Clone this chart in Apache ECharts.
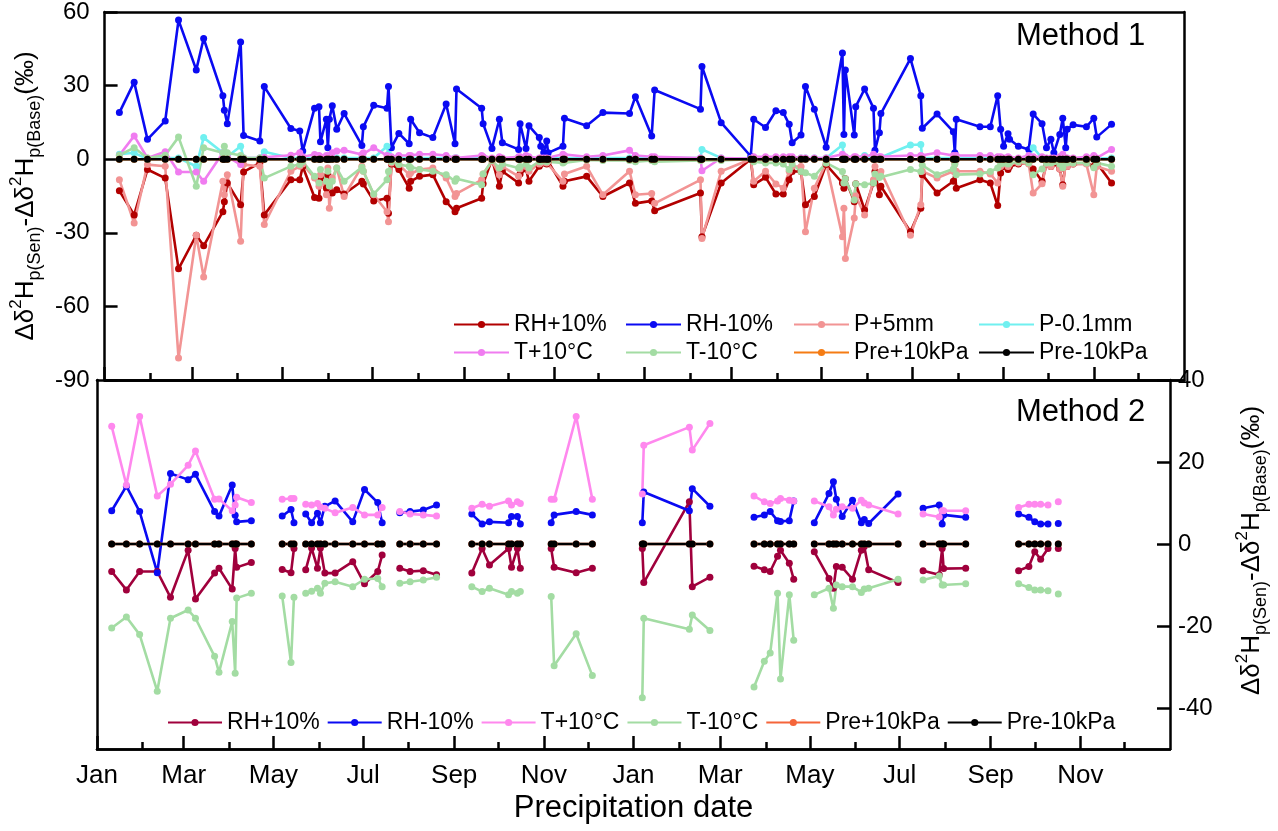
<!DOCTYPE html>
<html>
<head>
<meta charset="utf-8">
<script src="https://cdn.jsdelivr.net/npm/echarts@6/dist/echarts.min.js"></script>
<style>
  html, body { margin: 0; padding: 0; background: #fff; }
  #main { width: 1278px; height: 831px; }
</style>
</head>
<body>
<div id="main"></div>
<script>
// x axis: days since 1 Jan of the first year
var tickDays = [0, 59, 120, 181, 243, 304, 365, 424, 485, 546, 608, 669];
var tickNames = ['Jan', 'Mar', 'May', 'Jul', 'Sep', 'Nov', 'Jan', 'Mar', 'May', 'Jul', 'Sep', 'Nov'];
var minorDays = [31, 90, 151, 212, 273, 334, 396, 455, 516, 577, 638, 699];

// Method 1 (top panel)
var topDays = [10,20,29,41,50,62,67,80,81,83, 92,94,105,108,126,132,134,142,145,146,
  150,151,152,154,157,162,174,175,182,191, 192,194,199,206,207,213,222,231,237,238,
  255,256,262,267,269,280,281,285,287,294, 295,297,299,300,310,311,326,337,355,359,
  370,372,403,404,417,437,439,447,454,459, 463,465,471,474,480,488,499,500,501,507,
  508,514,520,521,524,525,545,552,553,563, 574,575,576,592,599,604,606,608,611,612,
  618,625,628,634,637,640,642,646,648,650, 651,655,664,669,671,681];
var topRHp = [-12.9,-22.7,-4.2,-7.7,-44.7,-31.0,-35.3,-21.4,-17.3,-9.7, -18.6,-5.2,-1.5,-22.7,-8.4,-8.4,-3.0,-15.6,-15.9,-7.7,
  -11.8,-6.3,-8.4,-13.8,-12.5,-14.2,-9.0,-10.1,-17.0,-15.9, -22.0,-2.0,-4.2,-11.8,-9.0,-7.0,-6.3,-17.3,-21.4,-20.0,
  -15.9,-10.0,0.0,-11.0,-4.9,-9.7,-6.0,-4.0,-9.0,-2.9, -2.0,-1.0,-2.0,-1.0,-11.0,-9.0,-7.0,-15.2,-9.7,-18.0,
  -17.0,-21.0,-13.8,-31.6,-9.7,0.0,-10.4,-7.4,-14.2,-14.2, -8.4,-5.0,-5.0,-18.6,-15.2,-2.2,-9.7,-11.8,-8.0,-17.3,
  -10.0,-20.7,-9.7,-5.0,-14.5,-11.0,-29.6,-20.0,-6.3,-13.8, -9.0,-5.0,-11.8,-8.4,-9.7,-18.9,-5.6,-3.0,-4.2,-3.0,
  -2.0,-1.5,-4.0,-9.0,-2.0,-3.0,-1.5,-4.0,-10.4,-1.5, -3.0,-2.0,-1.5,-2.9,-1.5,-9.7];
var topRHm = [19.0,31.4,8.1,15.6,56.7,36.4,49.2,25.9,20.0,14.5, 47.8,9.7,7.4,29.6,12.5,11.5,3.3,20.8,21.4,7.1,
  16.3,4.7,16.3,21.8,12.2,18.6,5.6,13.2,22.0,20.8, 29.6,4.7,10.5,6.3,16.3,10.8,8.8,22.5,6.3,28.6,
  20.8,14.5,4.4,16.3,6.7,4.0,14.5,4.4,13.6,8.8, 5.3,2.6,7.4,2.6,5.3,16.7,13.6,19.0,18.6,25.5,
  9.5,28.2,20.4,37.8,14.9,1.2,16.3,12.9,19.7,19.0, 14.2,6.7,9.9,29.6,20.4,4.9,43.3,10.1,36.4,9.9,
  21.4,28.6,20.8,3.6,10.8,18.6,41.0,25.9,12.6,18.4, 11.2,2.6,16.3,13.2,13.2,25.9,12.2,5.3,10.4,8.1,
  5.3,4.0,18.4,14.5,4.7,8.1,2.6,10.1,16.7,4.7, 12.2,14.0,13.2,16.7,9.0,14.2];
var topP5 = [-8.4,-26.0,-2.2,-2.9,-81.0,-31.0,-48.0,-9.0,-14.5,-6.3, -33.4,-2.2,-2.9,-26.6,-4.9,-2.9,-2.0,-7.7,-11.0,-6.3,
  -14.5,-3.6,-20.0,-7.7,-3.6,-15.2,-2.9,-4.9,-14.5,-21.4, -25.5,-1.5,-2.2,-6.3,-5.5,-4.2,-3.6,-7.7,-15.2,-14.0,
  -8.4,-6.0,-0.8,-6.3,-3.0,-7.0,-4.0,-3.0,-4.9,-2.0, -1.5,-1.0,-1.5,-0.8,-9.0,-6.0,-2.9,-14.5,-4.9,-14.5,
  -14.0,-18.0,-8.4,-32.3,-4.9,0.0,-9.0,-4.9,-10.1,-11.8, -4.9,-3.0,-3.0,-29.6,-11.8,-1.5,-31.6,-20.0,-40.5,-24.0,
  -15.0,-22.7,-8.4,-3.0,-6.3,-5.0,-31.0,-18.6,-4.9,-7.7, -4.9,-2.0,-4.9,-4.9,-6.0,-9.7,-3.0,-2.0,-3.0,-2.0,
  -1.5,-2.0,-13.8,-10.0,-2.0,-3.0,-1.0,-4.0,-11.0,-2.0, -3.0,-2.0,-2.0,-14.5,-3.0,-4.9];
var topP01 = [2.0,2.6,0.0,0.5,0.5,-2.9,8.8,2.6,1.0,1.0, 5.3,0.5,0.5,3.0,0.5,0.5,0.3,0.5,0.5,0.3,
  0.5,0.5,0.5,0.8,0.5,0.5,0.5,0.5,0.5,5.3, 2.0,0.5,0.5,0.5,0.5,0.5,0.5,0.5,0.5,0.5,
  0.5,0.5,0.3,0.5,0.3,0.5,0.5,0.3,0.5,0.3, 0.3,0.2,0.3,0.2,0.5,0.5,0.5,0.5,0.5,0.5,
  0.5,0.5,0.5,4.0,0.5,0.3,0.5,0.5,0.5,0.5, 0.5,0.5,0.5,0.5,0.5,0.5,5.8,0.5,0.5,0.5,
  0.5,1.5,0.5,0.5,0.5,0.5,5.8,6.0,0.5,0.5, 0.5,0.3,0.5,0.5,0.5,0.5,0.5,0.3,0.3,0.3,
  0.3,0.5,4.7,0.5,0.3,0.3,0.3,0.3,0.5,0.3, 0.3,0.3,0.3,0.5,0.3,0.5];
var topTp = [1.6,9.5,0.5,3.0,-5.2,-5.2,-9.0,2.6,1.0,1.0, -2.2,0.5,0.5,0.8,1.6,2.6,1.0,1.9,1.5,1.0,
  1.5,1.0,1.5,2.6,3.3,3.6,1.9,2.6,4.7,1.5, 1.0,1.0,1.5,1.5,1.5,2.0,2.0,1.5,0.5,0.5,
  1.5,1.0,0.5,1.0,0.5,1.0,1.0,1.5,1.0,0.5, 0.5,0.5,0.5,0.3,2.0,1.5,1.0,1.5,3.6,1.5,
  1.0,1.0,0.5,-4.7,0.5,0.3,1.0,1.0,1.0,1.0, 1.0,1.0,0.5,0.5,0.5,0.5,2.0,1.0,1.0,1.0,
  1.0,1.0,2.0,1.0,1.0,1.0,1.5,1.5,1.0,2.6, 1.5,1.0,1.5,1.5,1.5,1.0,1.0,0.5,1.0,0.5,
  0.5,1.5,1.0,1.0,0.5,0.5,0.5,1.0,2.0,0.5, 0.5,0.5,1.0,1.5,0.5,4.0];
var topTm = [1.6,4.7,0.5,1.6,9.0,-11.0,4.7,2.6,5.3,2.6, 1.5,0.5,0.5,-7.7,-2.9,-2.2,-1.0,-7.0,-9.7,-4.2,
  -9.0,-4.9,-10.9,-9.0,-3.6,-9.0,-3.3,-4.9,-14.2,-8.4, -5.0,-1.0,-2.2,-2.9,-3.5,-4.2,-4.9,-6.3,-9.0,-8.0,
  -10.4,-6.0,-0.5,-3.6,-2.0,-3.6,-3.0,-2.0,-3.6,-1.0, -1.0,-0.5,-1.0,-0.5,-1.5,-1.0,-0.3,-0.5,-0.5,-1.0,
  -0.5,-1.0,-0.5,0.0,-0.5,0.0,-1.0,-1.5,-1.5,-2.0, -4.2,-2.0,-5.0,-5.5,-7.0,-1.5,-5.0,-9.7,-8.0,-16.6,
  -10.0,-10.4,-9.7,-6.0,-7.5,-7.0,-4.2,-5.0,-2.5,-6.3, -4.0,-2.0,-6.3,-6.0,-5.0,-3.6,-2.0,-1.5,-2.0,-1.5,
  -1.0,-1.5,-6.3,-4.0,-1.5,-1.5,-1.0,-2.0,-3.5,-1.0, -1.5,-1.5,-1.5,-3.5,-1.5,-2.9];
var topPreP = [0,0,0,0,0,0,0,0,0,0, 0,0,0,0,0,0,0,0,0,0, 0,0,0,0,0,0,0,0,0,0, 0,0,0,0,0,0,0,0,0,0,
  0,0,0,0,0,0,0,0,0,0, 0,0,0,0,0,0,0,0,0,0, 0,0,0,0,0,0,0,0,0,0, 0,0,0,0,0,0,0,0,0,0,
  0,0,0,0,0,0,0,0,0,0, 0,0,0,0,0,0,0,0,0,0, 0,0,0,0,0,0,0,0,0,0, 0,0,0,0,0,0];
var topPreM = [0,0,0,0,0,0,0,0,0,0, 0,0,0,0,0,0,0,0,0,0, 0,0,0,0,0,0,0,0,0,0, 0,0,0,0,0,0,0,0,0,0,
  0,0,0,0,0,0,0,0,0,0, 0,0,0,0,0,0,0,0,0,0, 0,0,0,0,0,0,0,0,0,0, 0,0,0,0,0,0,0,0,0,0,
  0,0,0,0,0,0,0,0,0,0, 0,0,0,0,0,0,0,0,0,0, 0,0,0,0,0,0,0,0,0,0, 0,0,0,0,0,0];

// Method 2 (bottom panel); null = gap in the record
var botDays = [10,20,29,41,50,62,67,80,83,92,94,95,105, null, 126,132,134, null,
  142,146,150,152,155,162,174,182,191,194, null, 206,213,222,231, null,
  255,262,267,280,282,286,288, null, 309,311,326,337, null, 371,372,403,405,417, null,
  447,454,458,463,465,471,474, null, 488,498,501,503,507,514,520,522,525,545, null,
  562,573,575,576,591, null, 627,634,638,642,647, null, 654];
var botRHp = [-6.7,-11.2,-6.7,-6.7,-13.0,-1.5,-13.4,-7.1,-5.9,-11.0,-1.1,-5.7,-4.5, null, -6.2,-7.0,-1.1, null,
  -6.3,-1.0,-5.9,-1.0,-7.1,-7.1,-4.3,-9.7,-6.7,-2.7, null, -5.9,-6.7,-6.5,-7.5, null,
  -7.1,-1.1,-5.1,-1.1,-5.7,-1.1,-5.9, null, -1.1,-5.7,-7.0,-5.9, null, -1.1,-9.4,10.3,-10.4,-8.1, null,
  -5.4,-6.3,-6.7,-3.0,-1.5,-4.7,-8.6, null, -1.9,-8.4,-10.8,-5.5,-5.7,-8.6,-1.5,-0.6,-6.3,-9.4, null,
  -6.5,-7.5,-1.1,-6.0,-5.9, null, -6.5,-5.5,-1.9,-3.7,-1.1, null, -1.1];
var botRHm = [8.1,14.1,7.9,-7.0,17.2,15.7,17.0,7.9,6.8,14.4,7.0,5.4,5.7, null, 6.8,8.4,5.2, null,
  7.3,5.2,7.5,5.2,9.2,10.5,5.4,13.3,10.1,5.2, null, 7.6,7.9,8.3,9.5, null,
  7.3,4.9,5.4,5.2,6.7,6.7,4.9, null, 5.2,7.1,7.9,7.1, null, 5.2,12.7,8.1,13.5,9.2, null,
  6.5,7.1,7.9,5.7,5.5,5.7,10.5, null, 5.2,12.3,15.2,10.9,6.7,10.7,5.2,6.0,5.0,12.2, null,
  8.7,9.5,4.9,7.1,6.5, null, 7.3,6.5,5.4,4.9,4.9, null, 5.0];
var botTp = [28.7,14.4,31.1,11.7,14.6,19.2,22.7,10.9,11.0,8.1,9.5,11.4,10.1, null, 10.9,11.1,11.1, null,
  9.7,9.5,9.9,9.0,8.7,7.6,8.9,7.1,7.1,8.9, null, 7.9,7.3,7.1,6.8, null,
  8.7,9.7,9.2,10.5,9.5,10.3,9.9, null, 10.9,10.9,31.1,10.9, null, 12.2,24.1,28.5,22.9,29.4, null,
  11.7,10.3,9.9,10.5,11.1,10.7,10.5, null, 10.5,9.1,7.1,8.5,9.1,8.7,10.7,10.0,9.5,7.3, null,
  7.3,6.6,8.1,8.1,8.1, null, 8.9,9.7,9.7,9.7,9.5, null, 10.3];
var botTm = [-20.5,-17.8,-22.1,-35.9,-18.1,-16.1,-18.1,-27.4,-31.3,-18.9,-31.5,-13.2,-12.0, null, -12.7,-28.9,-13.0, null,
  -12.0,-11.5,-10.8,-12.0,-9.6,-9.2,-10.4,-8.6,-8.4,-10.4, null, -9.6,-9.2,-8.8,-8.1, null,
  -10.4,-11.6,-10.8,-12.4,-11.6,-12.0,-11.6, null, -12.8,-29.7,-21.9,-32.1, null, -37.5,-18.1,-20.8,-17.3,-21.1, null,
  -34.9,-28.6,-26.6,-12.0,-32.9,-12.4,-23.5, null, -12.4,-10.8,-15.7,-10.0,-10.4,-10.4,-11.8,-11.0,-10.8,-8.6, null,
  -8.8,-7.8,-10.0,-10.0,-9.7, null, -9.7,-10.6,-11.2,-11.2,-11.4, null, -12.2];
var botPreP = [0,0,0,0,0,0,0,0,0,0,0,0,0, null, 0,0,0, null, 0,0,0,0,0,0,0,0,0,0, null, 0,0,0,0, null,
  0,0,0,0,0,0,0, null, 0,0,0,0, null, 0,0,0,0,0, null, 0,0,0,0,0,0,0, null, 0,0,0,0,0,0,0,0,0,0, null,
  0,0,0,0,0, null, 0,0,0,0,0, null, 0];
var botPreM = [0,0,0,0,0,0,0,0,0,0,0,0,0, null, 0,0,0, null, 0,0,0,0,0,0,0,0,0,0, null, 0,0,0,0, null,
  0,0,0,0,0,0,0, null, 0,0,0,0, null, 0,0,0,0,0, null, 0,0,0,0,0,0,0, null, 0,0,0,0,0,0,0,0,0,0, null,
  0,0,0,0,0, null, 0,0,0,0,0, null, 0];

var FONT = 'Liberation Sans, Arial, sans-serif';

function pairs(days, vals) {
  return days.map(function (d, i) {
    return (d === null || vals[i] === null) ? ['-', '-'] : [d, vals[i]];
  });
}

function makeLine(name, color, xi, yi, days, vals) {
  return {
    name: name,
    type: 'line',
    xAxisIndex: xi,
    yAxisIndex: yi,
    data: pairs(days, vals),
    symbol: 'circle',
    symbolSize: 7,
    connectNulls: false,
    lineStyle: { color: color, width: 2.6 },
    itemStyle: { color: color },
    emphasis: { disabled: true }
  };
}

var axisTitle = '{n|Δδ}{sup|2}{n|H}{sub|p(Sen)}{n|-Δδ}{sup|2}{n|H}{sub|p(Base)}{n|(‰)}';
var titleRich = {
  n: { fontSize: 26, lineHeight: 36, fontFamily: FONT, color: '#000', verticalAlign: 'middle' },
  sup: { fontSize: 17, lineHeight: 17, fontFamily: FONT, color: '#000', verticalAlign: 'top' },
  sub: { fontSize: 18, lineHeight: 18, fontFamily: FONT, color: '#000', verticalAlign: 'bottom' }
};

function axisLine() {
  return { show: true, onZero: false, lineStyle: { color: '#000', width: 2.5 } };
}
function tickStyle() {
  return { color: '#000', width: 2.5 };
}

function xMajor(gi, withLabels) {
  return {
    type: 'value', gridIndex: gi, min: 0, max: 730, position: 'bottom',
    axisLine: axisLine(),
    splitLine: { show: false },
    axisTick: { show: true, inside: true, length: 13, customValues: tickDays, lineStyle: tickStyle() },
    axisLabel: {
      show: withLabels, customValues: tickDays, margin: 14, fontSize: 26, color: '#000', fontFamily: FONT,
      formatter: function (v) { return tickNames[tickDays.indexOf(v)]; }
    }
  };
}
function xMinor(gi) {
  return {
    type: 'value', gridIndex: gi, min: 0, max: 730, position: 'bottom',
    axisLine: axisLine(),
    splitLine: { show: false },
    axisTick: { show: true, inside: true, length: 7, customValues: minorDays, lineStyle: tickStyle() },
    axisLabel: { show: false }
  };
}
// plain frame edge: line only
function xFrame(gi) {
  return {
    type: 'value', gridIndex: gi, min: 0, max: 730, position: 'top',
    axisLine: axisLine(), axisTick: { show: false }, axisLabel: { show: false }, splitLine: { show: false }
  };
}
function yFrame(gi, pos) {
  return {
    type: 'value', gridIndex: gi, min: 0, max: 1, position: pos,
    axisLine: axisLine(), axisTick: { show: false }, axisLabel: { show: false }, splitLine: { show: false }
  };
}

var xBottom = xMajor(1, true);
xBottom.name = 'Precipitation date';
xBottom.nameLocation = 'middle';
xBottom.nameGap = 44;
xBottom.nameTextStyle = { fontSize: 31, color: '#000', fontFamily: FONT };

function legendBox(left, names) {
  return {
    orient: 'vertical', left: left, top: 308, itemGap: 5,
    itemWidth: 55, itemHeight: 9,
    data: names,
    selectedMode: false,
    textStyle: { fontSize: 23, lineHeight: 23, color: '#000', fontFamily: FONT }
  };
}

var option = {
  backgroundColor: '#fff',
  animation: false,
  grid: [
    { left: 97, right: 94, top: 12, height: 368 },
    { left: 97, right: 94, top: 380, height: 369 }
  ],
  xAxis: [xMajor(0, false), xMinor(0), xBottom, xMinor(1), xFrame(0), xFrame(1)],
  yAxis: [
    {
      type: 'value', gridIndex: 0, position: 'left', min: -90, max: 60, interval: 30,
      axisLine: axisLine(), splitLine: { show: false },
      axisTick: { show: true, inside: true, length: 13, lineStyle: tickStyle() },
      axisLabel: { margin: 15, fontSize: 24, color: '#000', fontFamily: FONT },
      name: axisTitle, nameLocation: 'middle', nameRotate: 90, nameGap: 58,
      nameTextStyle: { rich: titleRich }
    },
    {
      type: 'value', gridIndex: 1, position: 'right', min: -50, max: 40,
      axisLine: axisLine(), splitLine: { show: false },
      axisTick: { show: true, inside: true, length: 13, customValues: [-40, -20, 0, 20, 40], lineStyle: tickStyle() },
      axisLabel: { customValues: [-40, -20, 0, 20, 40], margin: 8, fontSize: 24, color: '#000', fontFamily: FONT },
      name: axisTitle, nameLocation: 'middle', nameRotate: 90, nameGap: 64,
      nameTextStyle: { rich: titleRich, padding: [0, 0, 0, 28] }
    },
    yFrame(0, 'right'),
    yFrame(1, 'left')
  ],
  legend: [
    legendBox(448, ['RH+10%', 'T+10°C']),
    legendBox(620, ['RH-10%', 'T-10°C']),
    legendBox(788, ['P+5mm', 'Pre+10kPa']),
    legendBox(973, ['P-0.1mm', 'Pre-10kPa']),
    {
      orient: 'horizontal', left: 162, top: 706, itemGap: 7,
      itemWidth: 54, itemHeight: 9,
      selectedMode: false,
      data: ['RH+10% ', 'RH-10% ', 'T+10°C ', 'T-10°C ', 'Pre+10kPa ', 'Pre-10kPa '],
      formatter: function (n) { return n.trim(); },
      textStyle: { fontSize: 23, lineHeight: 23, color: '#000', fontFamily: FONT }
    }
  ],
  graphic: [
    { type: 'text', left: 1016, top: 21, style: { text: 'Method 1', fontSize: 31, fill: '#000', fontFamily: FONT } },
    { type: 'text', left: 1016, top: 397, style: { text: 'Method 2', fontSize: 31, fill: '#000', fontFamily: FONT } }
  ],
  series: [
    makeLine('RH+10%', '#B20000', 0, 0, topDays, topRHp),
    makeLine('RH-10%', '#0A0AF2', 0, 0, topDays, topRHm),
    makeLine('P+5mm', '#F29494', 0, 0, topDays, topP5),
    makeLine('P-0.1mm', '#70F0F0', 0, 0, topDays, topP01),
    makeLine('T+10°C', '#F07CF0', 0, 0, topDays, topTp),
    makeLine('T-10°C', '#A3DCA3', 0, 0, topDays, topTm),
    makeLine('Pre+10kPa', '#F57C14', 0, 0, topDays, topPreP),
    makeLine('Pre-10kPa', '#000000', 0, 0, topDays, topPreM),
    makeLine('RH+10% ', '#A0003C', 2, 1, botDays, botRHp),
    makeLine('RH-10% ', '#0A0AF2', 2, 1, botDays, botRHm),
    makeLine('T+10°C ', '#FF88EE', 2, 1, botDays, botTp),
    makeLine('T-10°C ', '#A3DCA3', 2, 1, botDays, botTm),
    makeLine('Pre+10kPa ', '#F5653A', 2, 1, botDays, botPreP),
    makeLine('Pre-10kPa ', '#000000', 2, 1, botDays, botPreM)
  ]
};

var chart = echarts.init(document.getElementById('main'));
chart.setOption(option);
</script>
</body>
</html>
